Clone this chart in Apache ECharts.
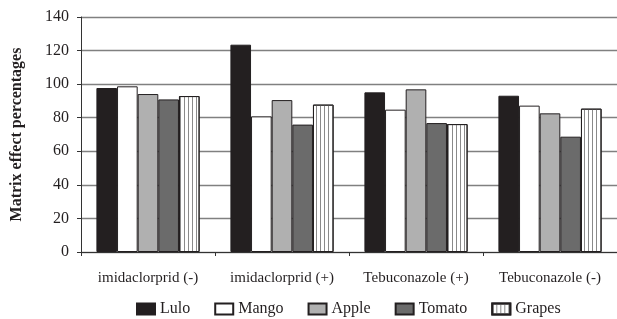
<!DOCTYPE html>
<html><head><meta charset="utf-8">
<script src="https://cdn.jsdelivr.net/npm/echarts@6/dist/echarts.min.js"></script>
<style>html,body{margin:0;padding:0;background:#fff}#c{width:617px;height:319px}</style>
</head><body><div id="c"></div>
<script>
var categories = ['imidaclorprid (-)', 'imidaclorprid (+)', 'Tebuconazole (+)', 'Tebuconazole (-)'];
var lulo   = [97.7, 123.5, 95.1, 93.1];
var mango  = [98.7, 80.8, 84.8, 87.2];
var apple  = [94.1, 90.5, 96.9, 82.6];
var tomato = [90.9, 75.9, 76.8, 68.7];
var grapes = [92.9, 87.8, 76.2, 85.4];
var yTicks = [0, 20, 40, 60, 80, 100, 120, 140];

var FONT = '"Liberation Serif", "DejaVu Serif", serif';
var BORDER = '#231f20';
function mk(name, data, color, decal) {
  var s = {
    name: name, type: 'bar', data: data, barGap: '0%', barCategoryGap: '23%',
    itemStyle: { color: color, borderColor: BORDER, borderWidth: 1 }
  };
  if (decal) s.itemStyle.decal = decal;
  return s;
}
var chart = echarts.init(document.getElementById('c'), null, { renderer: 'canvas' });
chart.setOption({
  animation: false,
  textStyle: { fontFamily: FONT },
  grid: { left: 81, right: 0, top: 17, bottom: 67, containLabel: false },
  legend: {
    top: 301, left: 136, icon: 'rect', padding: 0,
    itemWidth: 18, itemHeight: 11, itemGap: 24,
    textStyle: { fontFamily: FONT, fontSize: 16, color: '#231f20' },
    data: ['Lulo', 'Mango', 'Apple', 'Tomato', 'Grapes']
  },
  xAxis: {
    type: 'category', data: categories,
    axisLine: { lineStyle: { color: '#333', width: 1 } },
    axisTick: { show: true, length: 4, alignWithLabel: false, lineStyle: { color: '#333' } },
    axisLabel: { interval: 0, fontFamily: FONT, fontSize: 15, color: '#231f20', margin: 19 }
  },
  yAxis: {
    type: 'value', min: yTicks[0], max: yTicks[yTicks.length - 1], interval: 20,
    name: 'Matrix effect percentages', nameLocation: 'middle', nameGap: 56,
    nameTextStyle: { fontFamily: FONT, fontSize: 16, fontWeight: 'bold', color: '#231f20' },
    axisLine: { show: true, lineStyle: { color: '#333', width: 1 } },
    axisTick: { show: true, length: 4, lineStyle: { color: '#333' } },
    axisLabel: { fontFamily: FONT, fontSize: 16, color: '#231f20', margin: 12 },
    splitLine: { show: true, lineStyle: { color: '#808080', width: 1.3 } }
  },
  series: [
    mk('Lulo', lulo, '#231f20'),
    mk('Mango', mango, '#ffffff'),
    mk('Apple', apple, '#b0b0b0'),
    mk('Tomato', tomato, '#6b6b6b'),
    mk('Grapes', grapes, '#ffffff', {
      symbol: 'rect', symbolSize: 1, color: '#8a8a8a',
      dashArrayX: [1, 3], dashArrayY: [4, 0], rotation: 0
    })
  ]
});
</script></body></html>
